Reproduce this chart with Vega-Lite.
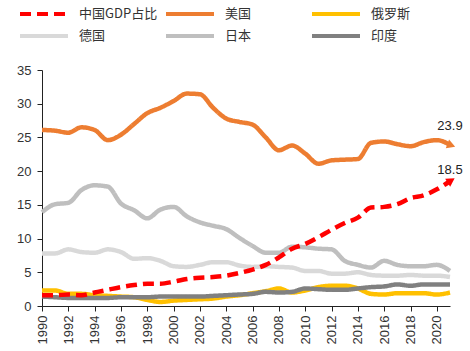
{
  "$schema": "https://vega.github.io/schema/vega-lite/v6.json",
  "autosize": {"type": "none"},
  "width": 408,
  "height": 236,
  "padding": {"left": 42, "top": 70, "right": 20, "bottom": 45},
  "background": "white",
  "config": {
    "view": {"stroke": null},
    "font": "Liberation Sans",
    "axis": {"labelFont": "Liberation Sans", "labelFontSize": 13, "labelColor": "#333333", "domainColor": "#222222", "tickColor": "#222222", "grid": false, "title": null}
  },
  "datasets": {
    "main": [
      {"year":1990,"country":"中国GDP占比","value":1.6},{"year":1991,"country":"中国GDP占比","value":1.6},{"year":1992,"country":"中国GDP占比","value":1.7},{"year":1993,"country":"中国GDP占比","value":1.6},{"year":1994,"country":"中国GDP占比","value":2.0},{"year":1995,"country":"中国GDP占比","value":2.4},{"year":1996,"country":"中国GDP占比","value":2.8},{"year":1997,"country":"中国GDP占比","value":3.1},{"year":1998,"country":"中国GDP占比","value":3.3},{"year":1999,"country":"中国GDP占比","value":3.3},{"year":2000,"country":"中国GDP占比","value":3.6},{"year":2001,"country":"中国GDP占比","value":4.0},{"year":2002,"country":"中国GDP占比","value":4.2},{"year":2003,"country":"中国GDP占比","value":4.3},{"year":2004,"country":"中国GDP占比","value":4.5},{"year":2005,"country":"中国GDP占比","value":4.9},{"year":2006,"country":"中国GDP占比","value":5.4},{"year":2007,"country":"中国GDP占比","value":6.1},{"year":2008,"country":"中国GDP占比","value":7.2},{"year":2009,"country":"中国GDP占比","value":8.5},{"year":2010,"country":"中国GDP占比","value":9.2},{"year":2011,"country":"中国GDP占比","value":10.2},{"year":2012,"country":"中国GDP占比","value":11.3},{"year":2013,"country":"中国GDP占比","value":12.3},{"year":2014,"country":"中国GDP占比","value":13.1},{"year":2015,"country":"中国GDP占比","value":14.6},{"year":2016,"country":"中国GDP占比","value":14.7},{"year":2017,"country":"中国GDP占比","value":15.1},{"year":2018,"country":"中国GDP占比","value":16.0},{"year":2019,"country":"中国GDP占比","value":16.4},{"year":2020,"country":"中国GDP占比","value":17.3},{"year":2021,"country":"中国GDP占比","value":18.5},
      {"year":1990,"country":"美国","value":26.1},{"year":1991,"country":"美国","value":26.0},{"year":1992,"country":"美国","value":25.7},{"year":1993,"country":"美国","value":26.5},{"year":1994,"country":"美国","value":26.1},{"year":1995,"country":"美国","value":24.6},{"year":1996,"country":"美国","value":25.4},{"year":1997,"country":"美国","value":27.0},{"year":1998,"country":"美国","value":28.6},{"year":1999,"country":"美国","value":29.4},{"year":2000,"country":"美国","value":30.4},{"year":2001,"country":"美国","value":31.5},{"year":2002,"country":"美国","value":31.4},{"year":2003,"country":"美国","value":29.4},{"year":2004,"country":"美国","value":27.8},{"year":2005,"country":"美国","value":27.3},{"year":2006,"country":"美国","value":26.9},{"year":2007,"country":"美国","value":25.0},{"year":2008,"country":"美国","value":23.1},{"year":2009,"country":"美国","value":23.8},{"year":2010,"country":"美国","value":22.6},{"year":2011,"country":"美国","value":21.1},{"year":2012,"country":"美国","value":21.6},{"year":2013,"country":"美国","value":21.7},{"year":2014,"country":"美国","value":21.8},{"year":2015,"country":"美国","value":24.2},{"year":2016,"country":"美国","value":24.4},{"year":2017,"country":"美国","value":24.0},{"year":2018,"country":"美国","value":23.7},{"year":2019,"country":"美国","value":24.3},{"year":2020,"country":"美国","value":24.6},{"year":2021,"country":"美国","value":23.9},
      {"year":1990,"country":"俄罗斯","value":2.3},{"year":1991,"country":"俄罗斯","value":2.3},{"year":1992,"country":"俄罗斯","value":1.8},{"year":1993,"country":"俄罗斯","value":1.8},{"year":1994,"country":"俄罗斯","value":1.6},{"year":1995,"country":"俄罗斯","value":1.5},{"year":1996,"country":"俄罗斯","value":1.4},{"year":1997,"country":"俄罗斯","value":1.3},{"year":1998,"country":"俄罗斯","value":0.9},{"year":1999,"country":"俄罗斯","value":0.6},{"year":2000,"country":"俄罗斯","value":0.8},{"year":2001,"country":"俄罗斯","value":0.9},{"year":2002,"country":"俄罗斯","value":1.0},{"year":2003,"country":"俄罗斯","value":1.1},{"year":2004,"country":"俄罗斯","value":1.4},{"year":2005,"country":"俄罗斯","value":1.6},{"year":2006,"country":"俄罗斯","value":1.9},{"year":2007,"country":"俄罗斯","value":2.2},{"year":2008,"country":"俄罗斯","value":2.6},{"year":2009,"country":"俄罗斯","value":2.0},{"year":2010,"country":"俄罗斯","value":2.3},{"year":2011,"country":"俄罗斯","value":2.8},{"year":2012,"country":"俄罗斯","value":3.0},{"year":2013,"country":"俄罗斯","value":3.0},{"year":2014,"country":"俄罗斯","value":2.6},{"year":2015,"country":"俄罗斯","value":1.8},{"year":2016,"country":"俄罗斯","value":1.7},{"year":2017,"country":"俄罗斯","value":1.9},{"year":2018,"country":"俄罗斯","value":1.9},{"year":2019,"country":"俄罗斯","value":1.9},{"year":2020,"country":"俄罗斯","value":1.7},{"year":2021,"country":"俄罗斯","value":2.0},
      {"year":1990,"country":"德国","value":7.8},{"year":1991,"country":"德国","value":7.8},{"year":1992,"country":"德国","value":8.4},{"year":1993,"country":"德国","value":8.0},{"year":1994,"country":"德国","value":7.9},{"year":1995,"country":"德国","value":8.4},{"year":1996,"country":"德国","value":8.0},{"year":1997,"country":"德国","value":7.0},{"year":1998,"country":"德国","value":7.1},{"year":1999,"country":"德国","value":6.7},{"year":2000,"country":"德国","value":5.9},{"year":2001,"country":"德国","value":5.8},{"year":2002,"country":"德国","value":6.1},{"year":2003,"country":"德国","value":6.5},{"year":2004,"country":"德国","value":6.5},{"year":2005,"country":"德国","value":6.0},{"year":2006,"country":"德国","value":5.8},{"year":2007,"country":"德国","value":5.9},{"year":2008,"country":"德国","value":5.8},{"year":2009,"country":"德国","value":5.7},{"year":2010,"country":"德国","value":5.2},{"year":2011,"country":"德国","value":5.2},{"year":2012,"country":"德国","value":4.8},{"year":2013,"country":"德国","value":4.8},{"year":2014,"country":"德国","value":5.0},{"year":2015,"country":"德国","value":4.6},{"year":2016,"country":"德国","value":4.5},{"year":2017,"country":"德国","value":4.5},{"year":2018,"country":"德国","value":4.6},{"year":2019,"country":"德国","value":4.5},{"year":2020,"country":"德国","value":4.5},{"year":2021,"country":"德国","value":4.3},
      {"year":1990,"country":"日本","value":13.9},{"year":1991,"country":"日本","value":15.1},{"year":1992,"country":"日本","value":15.3},{"year":1993,"country":"日本","value":17.2},{"year":1994,"country":"日本","value":17.9},{"year":1995,"country":"日本","value":17.7},{"year":1996,"country":"日本","value":15.2},{"year":1997,"country":"日本","value":14.2},{"year":1998,"country":"日本","value":13.0},{"year":1999,"country":"日本","value":14.3},{"year":2000,"country":"日本","value":14.7},{"year":2001,"country":"日本","value":13.3},{"year":2002,"country":"日本","value":12.4},{"year":2003,"country":"日本","value":11.9},{"year":2004,"country":"日本","value":11.4},{"year":2005,"country":"日本","value":10.1},{"year":2006,"country":"日本","value":8.9},{"year":2007,"country":"日本","value":7.9},{"year":2008,"country":"日本","value":7.9},{"year":2009,"country":"日本","value":8.8},{"year":2010,"country":"日本","value":8.7},{"year":2011,"country":"日本","value":8.5},{"year":2012,"country":"日本","value":8.4},{"year":2013,"country":"日本","value":6.7},{"year":2014,"country":"日本","value":6.1},{"year":2015,"country":"日本","value":5.7},{"year":2016,"country":"日本","value":6.7},{"year":2017,"country":"日本","value":6.1},{"year":2018,"country":"日本","value":5.9},{"year":2019,"country":"日本","value":5.9},{"year":2020,"country":"日本","value":6.1},{"year":2021,"country":"日本","value":5.2},
      {"year":1990,"country":"印度","value":1.4},{"year":1991,"country":"印度","value":1.3},{"year":1992,"country":"印度","value":1.2},{"year":1993,"country":"印度","value":1.2},{"year":1994,"country":"印度","value":1.2},{"year":1995,"country":"印度","value":1.2},{"year":1996,"country":"印度","value":1.3},{"year":1997,"country":"印度","value":1.3},{"year":1998,"country":"印度","value":1.3},{"year":1999,"country":"印度","value":1.4},{"year":2000,"country":"印度","value":1.4},{"year":2001,"country":"印度","value":1.4},{"year":2002,"country":"印度","value":1.4},{"year":2003,"country":"印度","value":1.5},{"year":2004,"country":"印度","value":1.6},{"year":2005,"country":"印度","value":1.7},{"year":2006,"country":"印度","value":1.8},{"year":2007,"country":"印度","value":2.1},{"year":2008,"country":"印度","value":2.0},{"year":2009,"country":"印度","value":2.1},{"year":2010,"country":"印度","value":2.6},{"year":2011,"country":"印度","value":2.5},{"year":2012,"country":"印度","value":2.4},{"year":2013,"country":"印度","value":2.4},{"year":2014,"country":"印度","value":2.6},{"year":2015,"country":"印度","value":2.8},{"year":2016,"country":"印度","value":2.9},{"year":2017,"country":"印度","value":3.2},{"year":2018,"country":"印度","value":3.0},{"year":2019,"country":"印度","value":3.2},{"year":2020,"country":"印度","value":3.2},{"year":2021,"country":"印度","value":3.2}
    ]
  },
  "data": {"name": "main"},
  "encoding": {
    "x": {"field": "year", "type": "quantitative", "scale": {"domain": [1990, 2021], "nice": false, "zero": false},
      "axis": {"values": [1990,1992,1994,1996,1998,2000,2002,2004,2006,2008,2010,2012,2014,2016,2018,2020], "format": "d", "labelAngle": -90, "labelAlign": "right", "labelBaseline": "middle", "tickSize": 5, "labelPadding": 4}},
    "y": {"field": "value", "type": "quantitative", "scale": {"domain": [0, 35], "nice": false},
      "axis": {"values": [0,5,10,15,20,25,30,35], "tickSize": 5, "labelPadding": 6}}
  },
  "layer": [
    {
      "transform": [{"filter": "datum.country !== '中国GDP占比'"}],
      "mark": {"type": "line", "strokeWidth": 4.5, "interpolate": "monotone"},
      "encoding": {
        "color": {"field": "country", "type": "nominal",
          "scale": {"domain": ["中国GDP占比","美国","俄罗斯","德国","日本","印度"], "range": ["#FF0000","#ED7D31","#FFC000","#D9D9D9","#BFBFBF","#808080"]},
          "legend": {"orient": "none", "legendX": -10, "legendY": -68, "direction": "horizontal", "columns": 3, "gridAlign": "all", "columnPadding": 0, "rowPadding": 2, "symbolType": "M-2.4,0H2.4", "symbolSize": 400, "symbolStrokeWidth": 4, "symbolFillColor": "transparent", "labelFont": "Noto Sans CJK SC", "labelFontSize": 13, "labelColor": "#333333", "labelOffset": 23, "title": null}},
        "strokeDash": {"field": "country", "type": "nominal",
          "scale": {"domain": ["中国GDP占比","美国","俄罗斯","德国","日本","印度"], "range": [[11,6],[1,0],[1,0],[1,0],[1,0],[1,0]]}},
        "order": {"field": "year"}
      }
    },
    {
      "transform": [{"filter": "datum.country === '中国GDP占比'"}],
      "mark": {"type": "line", "strokeWidth": 4.5, "interpolate": "monotone"},
      "encoding": {
        "color": {"field": "country", "type": "nominal"},
        "strokeDash": {"field": "country", "type": "nominal"},
        "order": {"field": "year"}
      }
    },
    {
      "transform": [{"filter": "datum.country === '美国' && datum.year === 2021"}],
      "mark": {"type": "point", "shape": "triangle", "filled": true, "size": 90, "angle": 110, "color": "#ED7D31", "opacity": 1}
    },
    {
      "transform": [{"filter": "datum.country === '中国GDP占比' && datum.year === 2021"}],
      "mark": {"type": "point", "shape": "triangle", "filled": true, "size": 90, "angle": 58, "color": "#FF0000", "opacity": 1}
    },
    {
      "transform": [{"filter": "datum.country === '美国' && datum.year === 2021"}],
      "mark": {"type": "text", "dy": -19, "fontSize": 13, "color": "#222222", "font": "Liberation Sans"},
      "encoding": {"text": {"field": "value", "type": "quantitative", "format": ".1f"}}
    },
    {
      "transform": [{"filter": "datum.country === '中国GDP占比' && datum.year === 2021"}],
      "mark": {"type": "text", "dy": -11, "fontSize": 13, "color": "#222222", "font": "Liberation Sans"},
      "encoding": {"text": {"field": "value", "type": "quantitative", "format": ".1f"}}
    }
  ]
}
